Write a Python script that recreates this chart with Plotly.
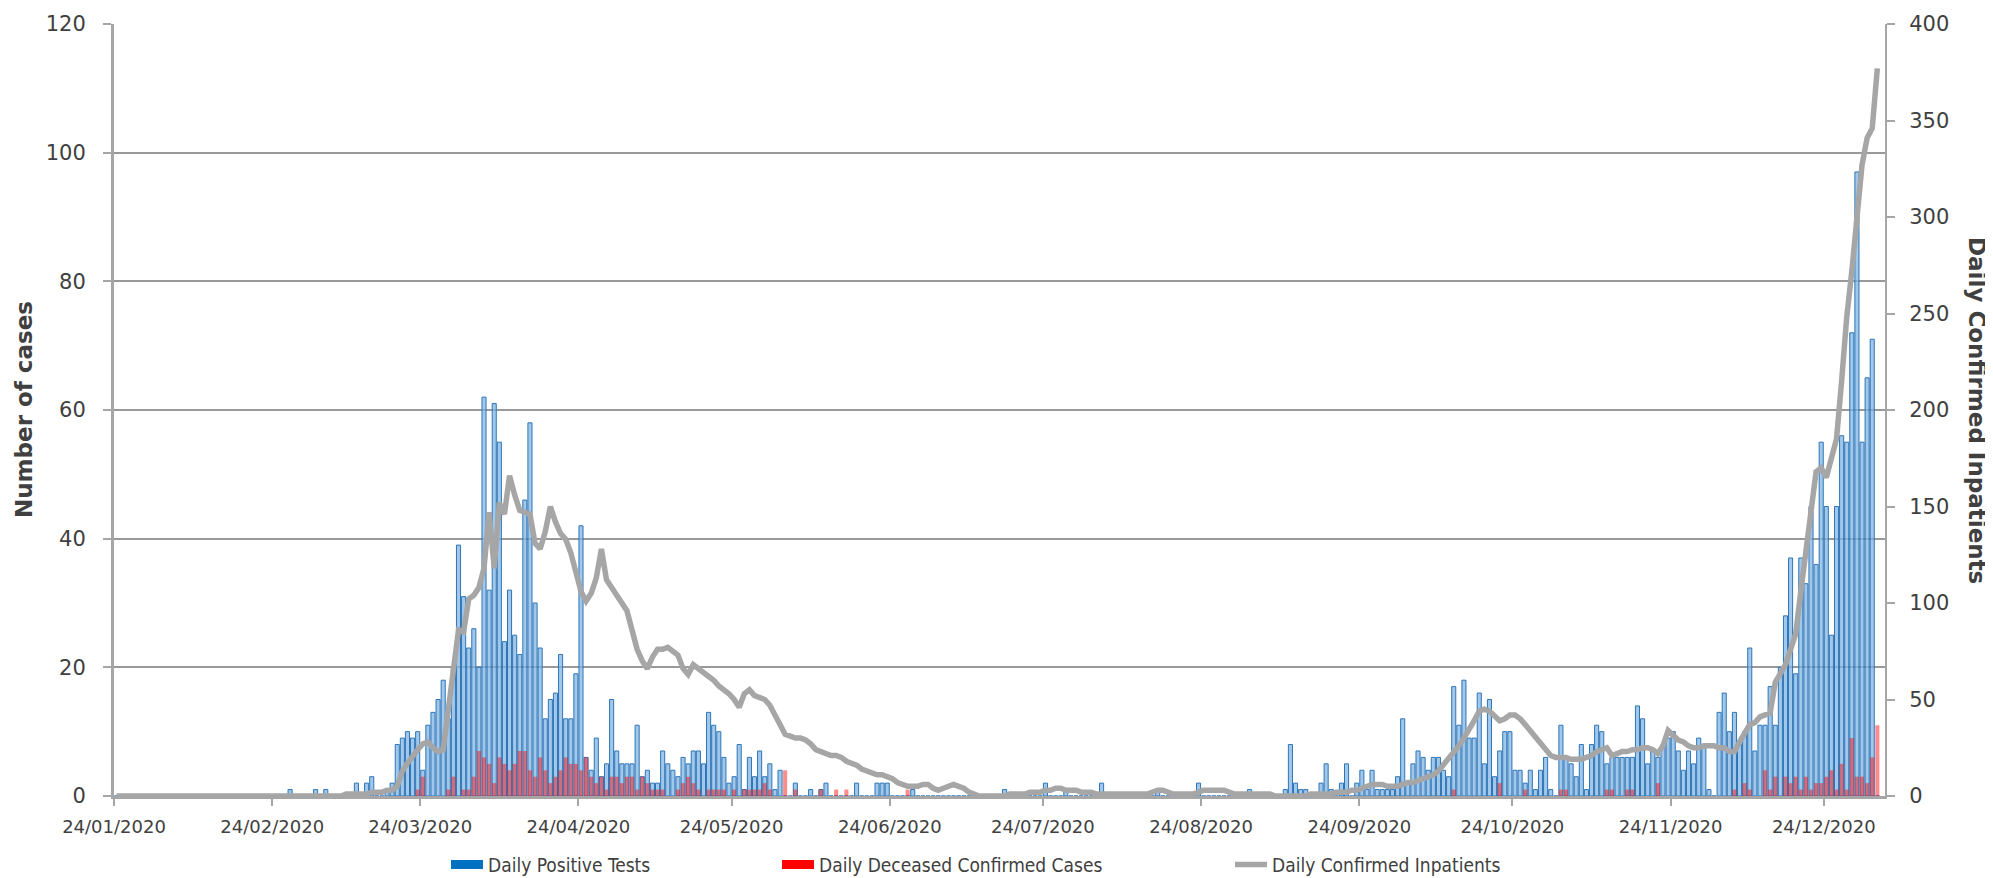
import pandas as pd
import plotly.graph_objects as go

# ---------------- data (daily, starting 24/01/2020) ----------------
start_date = "2020-01-24"

# Daily Positive Tests (left axis)
pos_jan = [0, 0, 0, 0, 0, 0, 0, 0]
pos_feb = [0, 0, 0, 0, 0, 0, 0, 0, 0, 0, 0, 0, 0, 0, 0, 0, 0, 0, 0, 0,
           0, 0, 0, 0, 0, 0, 1, 0, 0]
pos_mar = [0, 0, 1, 0, 1, 0, 0, 0, 0, 0, 2, 0, 2, 3, 0, 0, 1, 2, 8, 9,
           10, 9, 10, 4, 11, 13, 15, 18, 12, 20, 39]
pos_apr = [31, 23, 26, 20, 62, 32, 61, 55, 24, 32, 25, 22, 46, 58, 30, 23, 12, 15, 16, 22,
           12, 12, 19, 42, 6, 4, 9, 3, 5, 15]
pos_may = [7, 5, 5, 5, 11, 3, 4, 2, 2, 7, 5, 4, 3, 6, 5, 7, 7, 5, 13, 11,
           10, 6, 2, 3, 8, 1, 6, 3, 7, 3, 5]
pos_jun = [1, 4, 0, 0, 2, 0, 0, 1, 0, 1, 2, 0, 0, 0, 0, 0, 2, 0, 0, 0,
           2, 2, 2, 0, 0, 0, 0, 1, 0, 0]
pos_jul = [0, 0, 0, 0, 0, 0, 0, 0, 0, 0, 0, 0, 0, 0, 0, 1, 0, 0, 0, 0,
           0, 0, 0, 2, 0, 0, 0, 1, 0, 0, 0]
pos_aug = [0, 0, 0, 2, 0, 0, 0, 0, 0, 0, 0, 0, 0, 0, 1, 0, 0, 0, 0, 0,
           0, 0, 2, 0, 0, 0, 0, 0, 0, 0, 0]
pos_sep = [0, 1, 0, 0, 0, 0, 0, 0, 1, 8, 2, 1, 1, 0, 0, 2, 5, 1, 0, 2,
           5, 0, 2, 4, 1, 4, 1, 1, 1, 1]
pos_oct = [3, 12, 2, 5, 7, 6, 4, 6, 6, 4, 3, 17, 11, 18, 9, 9, 16, 5, 15, 3,
           7, 10, 10, 4, 4, 2, 4, 1, 4, 6, 1]
pos_nov = [0, 11, 6, 5, 3, 8, 1, 8, 11, 10, 5, 6, 6, 6, 6, 6, 14, 12, 5, 7,
           6, 8, 9, 10, 7, 4, 7, 5, 9, 8]
pos_dec = [1, 0, 13, 16, 10, 13, 8, 10, 23, 7, 11, 11, 17, 11, 20, 28, 37, 19, 37, 33,
           45, 36, 55, 45, 25, 45, 56, 55, 72, 97, 55]
pos_jan21 = [65, 71, 0]

# Daily Deceased Confirmed Cases (left axis)
dec_jan = [0, 0, 0, 0, 0, 0, 0, 0]
dec_feb = [0] * 29
dec_mar = [0, 0, 0, 0, 0, 0, 0, 0, 0, 0, 0, 0, 0, 0, 0, 0, 0, 0, 0, 0,
           0, 0, 1, 3, 0, 0, 0, 0, 1, 3, 0]
dec_apr = [1, 1, 3, 7, 6, 5, 2, 6, 5, 4, 5, 7, 7, 4, 3, 6, 4, 2, 3, 4,
           6, 5, 5, 4, 6, 3, 2, 3, 1, 3]
dec_may = [3, 2, 3, 3, 1, 3, 2, 1, 1, 1, 0, 0, 1, 2, 3, 2, 1, 0, 1, 1,
           1, 1, 0, 1, 0, 1, 1, 1, 1, 2, 1]
dec_jun = [0, 0, 4, 0, 1, 0, 0, 0, 0, 1, 0, 0, 1, 0, 1, 0, 0, 0, 0, 0,
           0, 0, 0, 0, 0, 0, 1, 0, 0, 0]
dec_jul = [0] * 31
dec_aug = [0] * 31
dec_sep = [0] * 30
dec_oct = [0, 0, 0, 0, 0, 0, 0, 0, 0, 0, 0, 1, 0, 0, 0, 0, 0, 0, 0, 0,
           2, 0, 0, 0, 0, 1, 0, 0, 0, 0, 0]
dec_nov = [0, 1, 1, 0, 0, 0, 0, 0, 0, 0, 1, 1, 0, 0, 1, 1, 0, 0, 0, 0,
           2, 0, 0, 0, 0, 0, 0, 0, 0, 0]
dec_dec = [0, 0, 0, 0, 0, 1, 0, 2, 1, 0, 0, 4, 1, 3, 0, 3, 2, 3, 1, 3,
           1, 2, 2, 3, 4, 1, 5, 1, 9, 3, 3]
dec_jan21 = [2, 6, 11]

# Daily Confirmed Inpatients (right axis)
inp_jan = [0, 0, 0, 0, 0, 0, 0, 0]
inp_feb = [0] * 29
inp_mar = [0, 0, 0, 0, 0, 0, 0, 0, 1, 1, 1, 1, 1, 2, 2, 2, 3, 3, 5, 13,
           17, 21, 24, 27, 28, 25, 23, 24, 45, 68, 86]
inp_apr = [85, 102, 104, 108, 118, 147, 118, 152, 146, 166, 156, 148, 147, 146, 131, 128, 137, 150, 142, 136,
           133, 126, 116, 106, 101, 105, 113, 128, 112, 108]
inp_may = [104, 101, 96, 86, 76, 70, 66, 72, 76, 76, 77, 75, 73, 66, 63, 68, 66, 64, 62, 60,
           57, 55, 53, 50, 46, 53, 55, 52, 51, 50, 47]
inp_jun = [42, 36, 32, 31, 30, 30, 29, 27, 24, 23, 22, 21, 21, 20, 18, 17, 16, 14, 13, 12,
           11, 11, 10, 9, 7, 6, 5, 5, 5, 6]
inp_jul = [6, 4, 3, 4, 5, 6, 5, 4, 2, 1, 0, 0, 0, 0, 0, 0, 1, 1, 1, 1,
           2, 2, 2, 3, 3, 4, 4, 3, 3, 3, 2]
inp_aug = [2, 2, 1, 1, 1, 1, 1, 1, 1, 1, 1, 1, 1, 2, 3, 3, 2, 1, 1, 1,
           1, 1, 2, 3, 3, 3, 3, 3, 2, 1, 1]
inp_sep = [1, 1, 1, 1, 1, 1, 0, 0, 0, 0, 0, 0, 0, 1, 1, 1, 1, 1, 2, 2,
           2, 3, 3, 4, 5, 6, 6, 6, 5, 5]
inp_oct = [5, 6, 7, 7, 8, 9, 10, 11, 13, 16, 19, 22, 26, 30, 34, 39, 44, 45, 44, 41,
           39, 40, 42, 42, 40, 37, 34, 30, 27, 24, 21]
inp_nov = [20, 20, 20, 19, 19, 19, 20, 21, 23, 24, 25, 21, 22, 23, 23, 24, 24, 25, 25, 24,
           22, 26, 34, 31, 29, 28, 26, 25, 25, 26]
inp_dec = [26, 26, 25, 25, 23, 23, 28, 33, 37, 38, 41, 42, 43, 59, 63, 68, 76, 84, 106, 128,
           150, 168, 170, 165, 175, 185, 215, 248, 272, 303, 327]
inp_jan21 = [341, 346, 377]

tick_dates = ["2020-01-24", "2020-02-24", "2020-03-24", "2020-04-24", "2020-05-24", "2020-06-24",
              "2020-07-24", "2020-08-24", "2020-09-24", "2020-10-24", "2020-11-24", "2020-12-24"]
tick_labels = ["24/01/2020", "24/02/2020", "24/03/2020", "24/04/2020", "24/05/2020", "24/06/2020",
               "24/07/2020", "24/08/2020", "24/09/2020", "24/10/2020", "24/11/2020", "24/12/2020"]

series_names = ["Daily Positive Tests", "Daily Deceased Confirmed Cases", "Daily Confirmed Inpatients"]

# ---------------- assemble ----------------
positive = (pos_jan + pos_feb + pos_mar + pos_apr + pos_may + pos_jun + pos_jul + pos_aug
            + pos_sep + pos_oct + pos_nov + pos_dec + pos_jan21)
deceased = (dec_jan + dec_feb + dec_mar + dec_apr + dec_may + dec_jun + dec_jul + dec_aug
            + dec_sep + dec_oct + dec_nov + dec_dec + dec_jan21)
inpatients = (inp_jan + inp_feb + inp_mar + inp_apr + inp_may + inp_jun + inp_jul + inp_aug
              + inp_sep + inp_oct + inp_nov + inp_dec + inp_jan21)

dates = pd.date_range(start_date, periods=len(positive), freq="D") + pd.Timedelta(hours=12)

AX = "#A6A6A6"
TXT = "#404040"
FONT = "DejaVu Sans"
LEGFONT = "DejaVu Sans Condensed, DejaVu Sans"

# plot area on the page: x 114..1885, y 24..796 (page has an 8px body offset)
PW = 1771.0


def px(page_x):
    return (page_x - 114) / PW


fig = go.Figure()
fig.add_trace(go.Bar(x=dates, y=positive, name=series_names[0], showlegend=False,
                     marker=dict(color="rgba(130,182,228,0.75)", line=dict(color="#2E75B6", width=1)),
                     yaxis="y"))
fig.add_trace(go.Bar(x=dates, y=deceased, name=series_names[1], showlegend=False,
                     marker=dict(color="rgba(255,0,0,0.45)", line=dict(width=0)),
                     yaxis="y"))
fig.add_trace(go.Scatter(x=dates, y=inpatients, name=series_names[2], mode="lines",
                         line=dict(color=AX, width=5.5), yaxis="y2", legend="legend3"))
# legend keys for the bar series
fig.add_trace(go.Scatter(x=[None], y=[None], name=series_names[0], mode="lines",
                         line=dict(color="#0070C0", width=9), legend="legend"))
fig.add_trace(go.Scatter(x=[None], y=[None], name=series_names[1], mode="lines",
                         line=dict(color="#FF0000", width=9), legend="legend2"))

leg_common = dict(orientation="h", yanchor="middle", y=-0.089, xanchor="left",
                  font=dict(family=LEGFONT, size=19, color=TXT), bgcolor="rgba(0,0,0,0)",
                  itemwidth=32)

fig.update_layout(
    width=1993, height=878,
    margin=dict(l=106, r=116, t=16, b=90, autoexpand=False),
    plot_bgcolor="white", paper_bgcolor="white",
    barmode="overlay", bargap=0.2,
    legend=dict(x=px(446), **leg_common),
    legend2=dict(x=px(777), **leg_common),
    legend3=dict(x=px(1230), **leg_common),
    xaxis=dict(type="date", range=["2020-01-24", "2021-01-05"],
               tickmode="array", tickvals=tick_dates, ticktext=tick_labels,
               ticks="outside", ticklen=7, tickwidth=2, tickcolor=AX,
               showline=True, linecolor=AX, linewidth=3, showgrid=False, zeroline=False,
               tickfont=dict(family=FONT, size=18, color=TXT), ticklabelstandoff=5),
    yaxis=dict(range=[0, 120], dtick=20, showgrid=True, gridcolor="#999999", gridwidth=2,
               showline=True, linecolor=AX, linewidth=3, zeroline=False,
               ticks="outside", ticklen=8, tickwidth=2, tickcolor=AX,
               tickfont=dict(family=FONT, size=21, color=TXT), ticklabelstandoff=13),
    yaxis2=dict(range=[0, 400], dtick=50, overlaying="y", side="right", showgrid=False,
                showline=True, linecolor=AX, linewidth=2, zeroline=False,
                ticks="outside", ticklen=8, tickwidth=2, tickcolor=AX,
                tickfont=dict(family=FONT, size=21, color=TXT), ticklabelstandoff=10),
    annotations=[
        dict(text="Number of cases", xref="paper", yref="paper", x=px(24), y=0.5,
             textangle=-90, showarrow=False, xanchor="center", yanchor="middle",
             font=dict(family=FONT, size=23, color=TXT, weight="bold")),
        dict(text="Daily Confirmed Inpatients", xref="paper", yref="paper", x=px(1977), y=0.5,
             textangle=90, showarrow=False, xanchor="center", yanchor="middle",
             font=dict(family=FONT, size=23, color=TXT, weight="bold")),
    ],
)

fig.write_html("out.html")
